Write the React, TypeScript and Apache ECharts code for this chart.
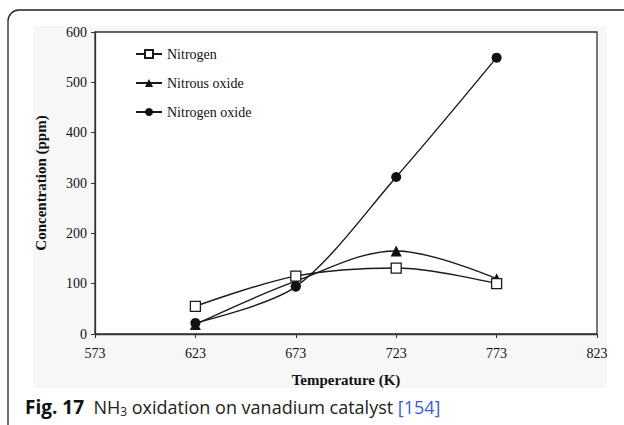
import React, { useEffect, useRef } from "react";
import * as echarts from "echarts";

const temperatures = [623, 673, 723, 773];
const nitrogen = [55, 115, 131, 100];
const nitrousOxide = [19, 105, 165, 110];
const nitrogenOxide = [22, 94, 312, 549];
const seriesNames = ["Nitrogen", "Nitrous oxide", "Nitrogen oxide"];

const pairs = (ys: number[]) => temperatures.map((t, i) => [t, ys[i]]);

export default function App() {
  const ref = useRef<HTMLDivElement>(null);
  useEffect(() => {
    if (!ref.current) return;
    const chart = echarts.init(ref.current, undefined, { renderer: "svg" });
    const serif = "Liberation Serif";
    const sans = "Open Sans";
    const lineStyle = { color: "#1a1a1a", width: 1.4 };
    chart.setOption({
      animation: false,
      backgroundColor: "#ffffff",
      grid: {
        left: 95,
        right: 27,
        top: 32,
        bottom: 91,
        show: true,
        backgroundColor: "#ffffff",
        borderColor: "#333",
        borderWidth: 1.3,
      },
      graphic: [
        {
          type: "rect",
          z: -10,
          shape: { x: 33, y: 26, width: 574, height: 362 },
          style: { fill: "#f7f7f7" },
        },
        {
          type: "rect",
          shape: { x: 8, y: 10, width: 640, height: 440, r: 11 },
          style: { fill: "none", stroke: "#222", lineWidth: 1.3 },
        },
        {
          type: "text",
          left: 25,
          top: 397,
          style: {
            text: "{b|Fig. 17}  {t|NH}{sub|3}{t| oxidation on vanadium catalyst }{link|[154]}",
            fontFamily: sans,
            fontSize: 18,
            fill: "#222",
            rich: {
              b: { fontWeight: "bold", fontSize: 19, fontFamily: sans, fill: "#111" },
              t: { fontSize: 18, fontFamily: sans, fill: "#222" },
              sub: { fontSize: 12, fontFamily: sans, padding: [10, 0, 0, 0], fill: "#222" },
              link: { fontSize: 18, fontFamily: sans, fill: "#3b5bdb" },
            },
          },
        },
      ],
      legend: {
        orient: "vertical",
        left: 135,
        top: 47,
        padding: 0,
        itemGap: 15,
        itemWidth: 26,
        itemHeight: 10,
        data: seriesNames,
        textStyle: { fontFamily: serif, fontSize: 14, color: "#111" },
      },
      xAxis: {
        type: "value",
        min: 573,
        max: 823,
        interval: 50,
        name: "Temperature (K)",
        nameLocation: "middle",
        nameGap: 38,
        nameTextStyle: { fontFamily: serif, fontWeight: "bold", fontSize: 15, color: "#111" },
        axisLine: { lineStyle: { color: "#333", width: 1.3 } },
        axisTick: { show: true, length: 4, lineStyle: { color: "#333" } },
        axisLabel: { fontFamily: serif, fontSize: 14, color: "#111", margin: 12 },
        splitLine: { show: false },
      },
      yAxis: {
        type: "value",
        min: 0,
        max: 600,
        interval: 100,
        name: "Concentration (ppm)",
        nameLocation: "middle",
        nameGap: 47,
        nameTextStyle: { fontFamily: serif, fontWeight: "bold", fontSize: 15, color: "#111" },
        axisLine: { show: true, lineStyle: { color: "#333", width: 1.3 } },
        axisTick: { show: true, length: 4, lineStyle: { color: "#333" } },
        axisLabel: { fontFamily: serif, fontSize: 14, color: "#111", margin: 8 },
        splitLine: { show: false },
      },
      series: [
        {
          name: seriesNames[0],
          type: "line",
          data: pairs(nitrogen),
          smooth: 0.35,
          symbol: "rect",
          symbolSize: 10,
          lineStyle,
          itemStyle: { color: "#ffffff", borderColor: "#1a1a1a", borderWidth: 1.3 },
          z: 3,
        },
        {
          name: seriesNames[1],
          type: "line",
          data: pairs(nitrousOxide),
          smooth: 0.35,
          symbol: "triangle",
          symbolSize: 11,
          lineStyle,
          itemStyle: { color: "#111" },
          z: 2,
        },
        {
          name: seriesNames[2],
          type: "line",
          data: pairs(nitrogenOxide),
          smooth: 0.3,
          symbol: "circle",
          symbolSize: 10,
          lineStyle,
          itemStyle: { color: "#111" },
          z: 2,
        },
      ],
    });
    return () => chart.dispose();
  }, []);
  return <div ref={ref} style={{ width: 624, height: 425, position: "absolute", left: 0, top: 0 }} />;
}
